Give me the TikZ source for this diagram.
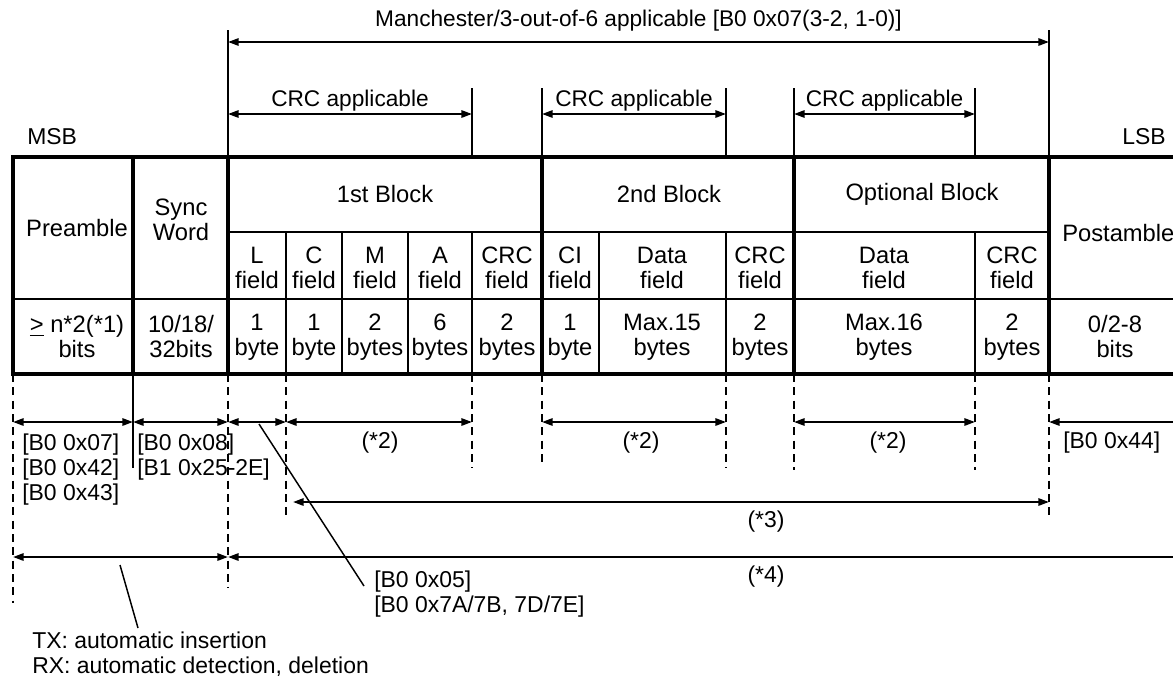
\documentclass[tikz,border=0pt]{standalone}
\usepackage{fontspec}
\setmainfont{Liberation Sans}
\usetikzlibrary{arrows.meta,positioning}

\begin{document}
\begin{tikzpicture}[
    x=0.75pt, y=-0.75pt,
    >={Triangle[length=8pt,width=5.5pt]},
    thickrule/.style={line width=2.6pt},
    thinrule/.style={line width=1.1pt},
    guide/.style={line width=1.1pt, dash pattern=on 6pt off 4pt},
    dim/.style={line width=1.5pt, <->},
    dimopen/.style={line width=1.5pt, <-},
    cell/.style={font=\fontsize{17.8}{18.75}\selectfont, align=center, inner sep=0pt},
    lbl/.style={font=\fontsize{17.2}{18.75}\selectfont, align=left, inner sep=0pt},
    toplbl/.style={font=\fontsize{17}{18}\selectfont, inner sep=0pt},
]
    \useasboundingbox (0,0) rectangle (1173,678);
    \clip (0,0) rectangle (1173,678);
    % column edges (top of frame)
    \foreach \name/\x in {cPre/13, cSync/133, cL/228, cC/286, cM/342, cA/408, cCrcA/472,
        cCI/542, cDataB/599, cCrcB/726, cDataC/794, cCrcC/975, cPost/1049, cEnd/1185}
      \coordinate (\name) at (\x,157);
    % row levels
    \coordinate (rHead) at (0,232);
    \coordinate (rField) at (0,299);
    \coordinate (rBot) at (0,374);
    \coordinate (yMan) at (0,30);
    \coordinate (yCrc) at (0,88);
    \coordinate (aMan) at (0,42);
    \coordinate (aCrc) at (0,114);
    \coordinate (aOne) at (0,422);
    \coordinate (aThree) at (0,502);
    \coordinate (aFour) at (0,557);

    % frame
    \draw[thickrule] (cEnd) -- (cPre) -- (cPre |- rBot) -- (cEnd |- rBot);
    \foreach \c in {cSync,cL,cCI,cDataC,cPost}
      \draw[thickrule] (\c) -- (\c |- rBot);
    \draw[thinrule] (cL |- rHead) -- (cPost |- rHead);
    \draw[thinrule] (cPre |- rField) -- (cEnd |- rField);
    \foreach \c in {cC,cM,cA,cCrcA,cDataB,cCrcB,cCrcC}
      \draw[thinrule] (\c |- rHead) -- (\c |- rBot);

    % header cells
    \node[cell] (pre) at (77,228) {Preamble};
    \node[cell] (sync) at (181,220) {Sync\\Word};
    \node[cell] (blkA) at (385,194) {1st Block};
    \node[cell] (blkB) at (669,194) {2nd Block};
    \node[cell] (blkC) at (922,194) {Optional Block};
    \node[cell, anchor=west] (post) at (1062,233) {Postamble};
    \foreach \n/\x/\t in {fL/257/L, fC/314/C, fM/375/M, fA/440/A, fCrcA/507/CRC,
        fCI/570/CI, fDataB/662/Data, fCrcB/760/CRC, fDataC/884/Data, fCrcC/1012/CRC}
      \node[cell] (\n) at (\x,268) {\t\\field};
    % sizes
    \foreach \n/\x/\t in {vPre/77/{\underline{>} n*2(*1)\\bits}, vSync/181/{10/18/\\32bits},
        vL/257/{1\\byte}, vC/314/{1\\byte}, vM/375/{2\\bytes}, vA/440/{6\\bytes},
        vCrcA/507/{2\\bytes}, vCI/570/{1\\byte}, vDataB/662/{Max.15\\bytes},
        vCrcB/760/{2\\bytes}, vDataC/884/{Max.16\\bytes}, vCrcC/1012/{2\\bytes},
        vPost/1115/{0/2-8\\bits}}
      \node[cell] (\n) at (\x,337) {\t};

    \node[lbl, anchor=west] (msb) at (27,137) {MSB};
    \node[lbl, anchor=east] (lsb) at (1166,137) {LSB};

    % coding and CRC ranges
    \draw[thinrule] (cL) -- (cL |- yMan);
    \draw[thinrule] (cPost) -- (cPost |- yMan);
    \foreach \c in {cCrcA,cCI,cCrcB,cDataC,cCrcC}
      \draw[thinrule] (\c) -- (\c |- yCrc);
    \draw[dim] (cL |- aMan) -- (cPost |- aMan)
        node[midway, above=7pt, toplbl] (man) {Manchester/3-out-of-6 applicable [B0 0x07(3-2, 1-0)]};
    \foreach \a/\b in {cL/cCrcA, cCI/cCrcB, cDataC/cCrcC}
      \draw[dim] (\a |- aCrc) -- (\b |- aCrc)
          node[midway, above=1pt, toplbl] {CRC applicable};

    % guides below the frame
    \foreach \c/\y in {cPre/603, cL/588, cC/515, cCrcA/468, cCI/465, cCrcB/468,
        cDataC/470, cCrcC/470, cPost/517}
      \draw[guide] (\c |- rBot) -- ++(0,{\y-374});
    \draw[thinrule] (cSync |- rBot) -- ++(0,94);

    % register ranges
    \foreach \a/\b in {cPre/cSync, cSync/cL, cL/cC, cC/cCrcA, cCI/cCrcB, cDataC/cCrcC}
      \draw[dim] (\a |- aOne) -- (\b |- aOne);
    \draw[dimopen] (cPost |- aOne) -- (cEnd |- aOne);
    \node[lbl, anchor=north west] (preReg) at (22,434) {[B0 0x07]\\{}[B0 0x42]\\{}[B0 0x43]};
    \node[lbl, anchor=north west] (syncReg) at (137,434) {[B0 0x08]\\{}[B1 0x25-2E]};
    \node[lbl] (noteA) at (380,443) {(*2)};
    \node[lbl] (noteB) at (641,443) {(*2)};
    \node[lbl] (noteC) at (888,443) {(*2)};
    \node[lbl, anchor=west] (postReg) at (1063,443) {[B0 0x44]};

    \coordinate (aThreeL) at (293,502);
    \draw[dim] (aThreeL) -- (cPost |- aThree);
    \node[lbl] (noteD) at (766,522) {(*3)};
    \draw[dim] (cPre |- aFour) -- (cL |- aFour);
    \draw[dimopen] (cL |- aFour) -- (cEnd |- aFour);
    \node[lbl] (noteE) at (766,577) {(*4)};

    % leaders
    \coordinate (lenPt) at (259,424);
    \coordinate (lenEnd) at (364,586);
    \node[lbl, anchor=north west] (lenReg) at (374,571) {[B0 0x05]\\{}[B0 0x7A/7B, 7D/7E]};
    \draw[thinrule] (lenPt) -- (lenEnd);
    \coordinate (autoPt) at (120,565);
    \coordinate (autoEnd) at (138,628);
    \node[lbl, anchor=north west] (auto) at (32,632) {TX: automatic insertion\\RX: automatic detection, deletion};
    \draw[thinrule] (autoPt) -- (autoEnd);
\end{tikzpicture}
\end{document}
